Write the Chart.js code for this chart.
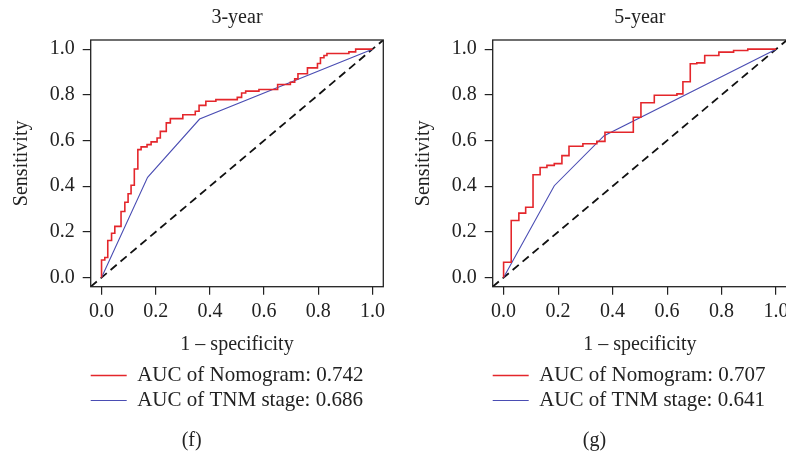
<!DOCTYPE html>
<html>
<head>
<meta charset="utf-8">
<script src="https://cdn.jsdelivr.net/npm/chart.js@4.4.1/dist/chart.umd.min.js"></script>
<style>
  html, body { margin: 0; padding: 0; background: #fff; overflow: hidden; }
  #wrap { position: relative; width: 786px; height: 453px; overflow: hidden; }
  canvas { position: absolute; top: 0; }
  #roc3 { left: 0; }
  #roc5 { left: 402px; }
</style>
</head>
<body>
<div id="wrap">
  <canvas id="roc3" width="401" height="453"></canvas>
  <canvas id="roc5" width="392" height="453"></canvas>
</div>
<script>
const xTicks = [0, 0.2, 0.4, 0.6, 0.8, 1.0];
const yTicks = [0, 0.2, 0.4, 0.6, 0.8, 1.0];
const diagX = [-0.04, 1.04];
const diagY = [-0.04, 1.04];

// 3-year panel (f)
const nomo3Fpr = [0, 0, 0.012, 0.023, 0.037, 0.049, 0.072, 0.086, 0.098, 0.109, 0.121, 0.134, 0.146, 0.168,
  0.183, 0.205, 0.217, 0.239, 0.254, 0.300, 0.346, 0.360, 0.385, 0.422, 0.501, 0.517, 0.532, 0.581,
  0.650, 0.697, 0.713, 0.725, 0.760, 0.797, 0.808, 0.821, 0.832, 0.913, 0.938, 1];
const nomo3Tpr = [0, 0.077, 0.088, 0.162, 0.194, 0.224, 0.289, 0.330, 0.367, 0.404, 0.475, 0.560, 0.572, 0.582,
  0.594, 0.611, 0.640, 0.677, 0.696, 0.713, 0.728, 0.754, 0.772, 0.779, 0.789, 0.808, 0.816, 0.823,
  0.845, 0.855, 0.870, 0.892, 0.918, 0.937, 0.962, 0.972, 0.981, 0.988, 1, 1];
const tnm3Fpr = [0, 0.170, 0.362, 1];
const tnm3Tpr = [0, 0.439, 0.694, 1];
const auc3Labels = ['AUC of Nomogram: 0.742', 'AUC of TNM stage: 0.686'];

// 5-year panel (g)
const nomo5Fpr = [0, 0, 0.028, 0.056, 0.081, 0.108, 0.134, 0.159, 0.186, 0.214, 0.240, 0.291, 0.342, 0.372,
  0.476, 0.504, 0.553, 0.636, 0.658, 0.685, 0.709, 0.738, 0.790, 0.844, 0.896, 1];
const nomo5Tpr = [0, 0.067, 0.250, 0.282, 0.308, 0.450, 0.482, 0.491, 0.499, 0.534, 0.575, 0.586, 0.596, 0.636,
  0.702, 0.765, 0.798, 0.804, 0.857, 0.936, 0.940, 0.972, 0.987, 0.994, 1, 1];
const tnm5Fpr = [0, 0.186, 0.369, 1];
const tnm5Tpr = [0, 0.402, 0.621, 1];
const auc5Labels = ['AUC of Nomogram: 0.707', 'AUC of TNM stage: 0.641'];

Chart.defaults.font.family = "'Liberation Serif', 'DejaVu Serif', serif";
Chart.defaults.font.size = 20;
Chart.defaults.color = '#222';

const pts = (xs, ys) => xs.map((x, i) => ({ x: x, y: ys[i] }));

// box around the plot region
const framePlugin = {
  id: 'frame',
  afterDatasetsDraw(chart) {
    const { ctx, chartArea: a } = chart;
    ctx.save();
    ctx.strokeStyle = '#222';
    ctx.lineWidth = 1.3;
    ctx.strokeRect(a.left, a.top, a.right - a.left, a.bottom - a.top);
    ctx.restore();
  }
};

// pull the legend flush with the plot's left edge
const legendShift = {
  id: 'legendShift',
  afterLayout(chart) {
    chart.legend.left -= 4;
  }
};

function rocChart(id, title, caption, nFpr, nTpr, tFpr, tTpr, labels, padRight) {
  new Chart(document.getElementById(id), {
    type: 'scatter',
    data: {
      datasets: [
        {
          label: labels[0],
          data: pts(nFpr, nTpr),
          showLine: true,
          stepped: 'before',
          borderColor: '#e4262b',
          backgroundColor: '#e4262b',
          borderWidth: 1.6,
          pointRadius: 0
        },
        {
          label: labels[1],
          data: pts(tFpr, tTpr),
          showLine: true,
          borderColor: '#4a4db3',
          backgroundColor: '#4a4db3',
          borderWidth: 1.1,
          pointRadius: 0
        },
        {
          label: 'ref',
          data: pts(diagX, diagY),
          showLine: true,
          borderColor: '#111',
          borderWidth: 1.8,
          borderDash: [8, 5],
          pointRadius: 0
        }
      ]
    },
    options: {
      responsive: false,
      animation: false,
      layout: { padding: { left: 0, right: padRight, top: 0, bottom: 0 } },
      plugins: {
        title: {
          display: true,
          text: title,
          fullSize: false,
          font: { size: 20, weight: 'normal' },
          padding: { top: 6, bottom: 10 }
        },
        subtitle: {
          display: true,
          text: caption,
          position: 'bottom',
          font: { size: 20 },
          padding: { top: 8, bottom: 0 }
        },
        legend: {
          position: 'bottom',
          align: 'start',
          fullSize: false,
          labels: {
            boxWidth: 36,
            boxHeight: 0,
            padding: 4,
            font: { size: 21 },
            filter: item => item.datasetIndex < 2
          }
        },
        tooltip: { enabled: false }
      },
      scales: {
        x: {
          type: 'linear',
          min: diagX[0],
          max: diagX[1],
          afterBuildTicks: s => { s.ticks = xTicks.map(v => ({ value: v })); },
          ticks: { padding: 5, callback: v => v.toFixed(1) },
          grid: { drawOnChartArea: false, tickLength: 8, color: '#222', lineWidth: 1.2 },
          border: { display: false },
          title: { display: true, text: '1 – specificity', padding: { top: 4.3, bottom: 4 } }
        },
        y: {
          type: 'linear',
          min: diagY[0],
          max: diagY[1],
          afterBuildTicks: s => { s.ticks = yTicks.map(v => ({ value: v })); },
          afterFit: s => { s.width = 90.7; },
          ticks: { padding: 8, callback: v => v.toFixed(1) },
          grid: { drawOnChartArea: false, tickLength: 8, color: '#222', lineWidth: 1.2 },
          border: { display: false },
          title: { display: true, text: 'Sensitivity', padding: { top: 10, bottom: 0 } }
        }
      }
    },
    plugins: [framePlugin, legendShift]
  });
}

rocChart('roc3', '3-year', '(f)', nomo3Fpr, nomo3Tpr, tnm3Fpr, tnm3Tpr, auc3Labels, 17.7);
rocChart('roc5', '5-year', '(g)', nomo5Fpr, nomo5Tpr, tnm5Fpr, tnm5Tpr, auc5Labels, 7);
</script>
</body>
</html>
